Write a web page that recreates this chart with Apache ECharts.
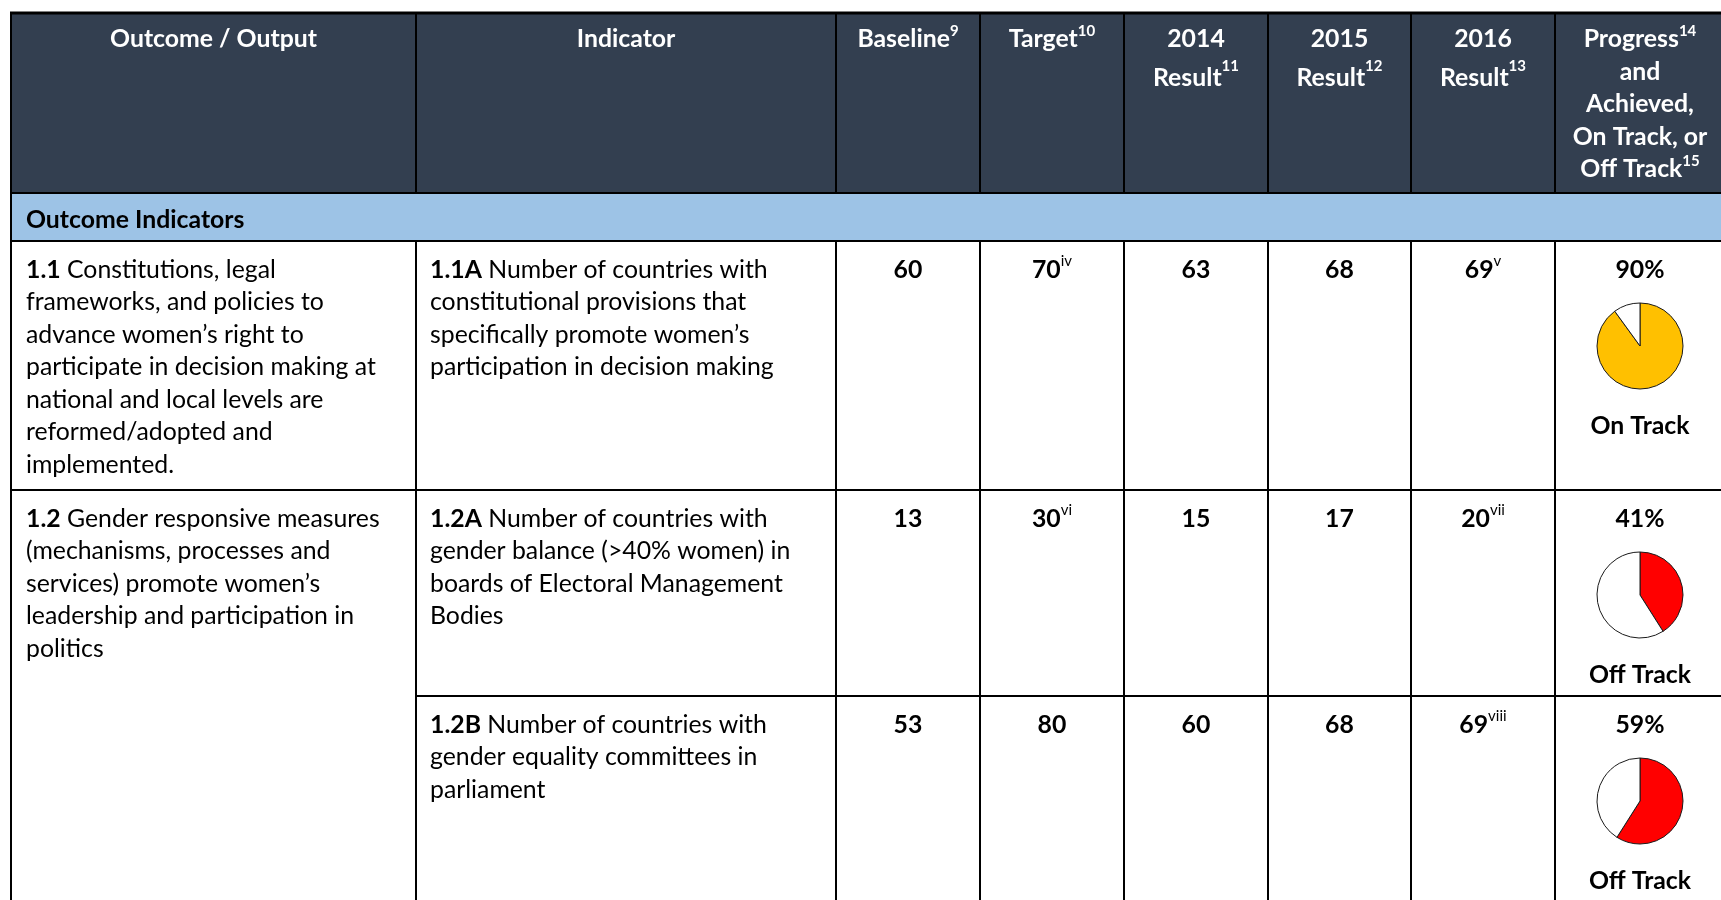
<!DOCTYPE html>
<html>
<head>
<meta charset="utf-8">
<script src="https://cdn.jsdelivr.net/npm/echarts@6/dist/echarts.min.js"></script>
<style>
  html, body { margin: 0; background: #fff; }
  #main { width: 1721px; height: 900px; }
</style>
</head>
<body>
<div id="main"></div>
<script>
// table content
var headerLabels = [
  'Outcome / Output',
  'Indicator',
  'Baseline{sup|9}',
  'Target{sup|10}',
  '2014\nResult{sup|11}',
  '2015\nResult{sup|12}',
  '2016\nResult{sup|13}',
  'Progress{sup|14}\nand\nAchieved,\nOn Track, or\nOff Track{sup|15}'
];
var sectionLabel = 'Outcome Indicators';
var outcomeCodes = ['1.1', '1.2'];
var outcomeTexts = [
  ' Constitutions, legal\nframeworks, and policies to\nadvance women’s right to\nparticipate in decision making at\nnational and local levels are\nreformed/adopted and\nimplemented.',
  ' Gender responsive measures\n(mechanisms, processes and\nservices) promote women’s\nleadership and participation in\npolitics'
];
var indicatorCodes = ['1.1A', '1.2A', '1.2B'];
var indicatorTexts = [
  ' Number of countries with\nconstitutional provisions that\nspecifically promote women’s\nparticipation in decision making',
  ' Number of countries with\ngender balance (>40% women) in\nboards of Electoral Management\nBodies',
  ' Number of countries with\ngender equality committees in\nparliament'
];
var baseline = [60, 13, 53];
var target = [70, 30, 80];
var targetNotes = ['iv', 'vi', ''];
var result2014 = [63, 15, 60];
var result2015 = [68, 17, 68];
var result2016 = [69, 20, 69];
var result2016Notes = ['v', 'vii', 'viii'];
var progress = [90, 41, 59];
var trackStatus = ['On Track', 'Off Track', 'Off Track'];

var statusColor = { 'On Track': '#FFC000', 'Off Track': '#FF0000' };

// font size fitted so body text wraps like the original
var FONT = 'Lato';
var probe = document.createElement('canvas').getContext('2d');
probe.font = '100px ' + FONT;
var fs = Math.round(100 * 350 / probe.measureText('participate in decision making at').width * 10) / 10;
var supFs = Math.round(fs * 0.6);

var W = 1721, H = 900;
var colX = [11, 416, 836, 980, 1124, 1268, 1411, 1555, 1725];
var headTop = 13, headBottom = 193, sectionBottom = 241;
var rowTops = [241, 490, 696];
var LH = 32.5;

function colCenter(i) { return (colX[i] + colX[i + 1]) / 2; }

function makeRich(color, lh, supWeight) {
  return {
    b: { fontFamily: FONT, fontSize: fs, fontWeight: 'bold', lineHeight: lh, fill: color },
    sup: { fontFamily: FONT, fontSize: supFs, fontWeight: supWeight, lineHeight: lh - fs * 0.4, verticalAlign: 'top', fill: color }
  };
}

var elements = [];

// backgrounds
elements.push({ type: 'rect', shape: { x: colX[0], y: headTop, width: W - colX[0], height: headBottom - headTop }, style: { fill: '#333F50' } });
elements.push({ type: 'rect', shape: { x: colX[0], y: headBottom, width: W - colX[0], height: sectionBottom - headBottom }, style: { fill: '#9DC3E6' } });

// header
headerLabels.forEach(function (label, i) {
  var lh = (i >= 4 && i <= 6) ? 38.5 : LH;
  elements.push({
    type: 'text', x: colCenter(i), y: 39.5 - lh / 2,
    style: {
      text: label, rich: makeRich('#fff', lh, 'bold'),
      font: 'bold ' + fs + 'px ' + FONT, fill: '#fff', lineHeight: lh,
      align: 'center', verticalAlign: 'top', textAlign: 'center', textVerticalAlign: 'top'
    }
  });
});

// section row
elements.push({
  type: 'text', x: 26, y: 220,
  style: { text: sectionLabel, font: 'bold ' + fs + 'px ' + FONT, fill: '#000', align: 'left', verticalAlign: 'middle', textAlign: 'left', textVerticalAlign: 'middle' }
});

function textBlock(x, y, text, align) {
  return {
    type: 'text', x: x, y: y,
    style: {
      text: text, rich: makeRich('#000', LH, 'normal'),
      font: fs + 'px ' + FONT, fill: '#000', lineHeight: LH,
      align: align, verticalAlign: 'top', textAlign: align, textVerticalAlign: 'top'
    }
  };
}

function cell(v, note) {
  return '{b|' + v + '}' + (note ? '{sup|' + note + '}' : '');
}

// outcomes (second one spans rows 1.2A and 1.2B)
var outcomeRows = [0, 1];
outcomeCodes.forEach(function (code, k) {
  elements.push(textBlock(26, rowTops[outcomeRows[k]] + 29 - LH / 2, '{b|' + code + '}' + outcomeTexts[k], 'left'));
});

var series = [];
indicatorCodes.forEach(function (code, r) {
  var top = rowTops[r];
  var lineY = top + 29 - LH / 2;
  elements.push(textBlock(430, lineY, '{b|' + code + '}' + indicatorTexts[r], 'left'));
  var cells = [
    cell(baseline[r]),
    cell(target[r], targetNotes[r]),
    cell(result2014[r]),
    cell(result2015[r]),
    cell(result2016[r], result2016Notes[r]),
    cell(progress[r] + '%')
  ];
  cells.forEach(function (t, c) {
    elements.push(textBlock(colCenter(c + 2), lineY, t, 'center'));
  });
  elements.push({
    type: 'text', x: colCenter(7), y: top + 185,
    style: { text: trackStatus[r], font: 'bold ' + fs + 'px ' + FONT, fill: '#000', align: 'center', verticalAlign: 'middle', textAlign: 'center', textVerticalAlign: 'middle' }
  });
  series.push({
    type: 'pie',
    silent: true,
    animation: false,
    center: [colCenter(7), top + 105],
    radius: 43,
    startAngle: 90,
    clockwise: true,
    label: { show: false },
    labelLine: { show: false },
    itemStyle: { borderColor: '#1a1a1a', borderWidth: 1 },
    data: [
      { value: progress[r], name: 'progress', itemStyle: { color: statusColor[trackStatus[r]] } },
      { value: 100 - progress[r], name: 'remaining', itemStyle: { color: '#fff' } }
    ]
  });
});

// grid lines
function hLine(y, x1, x2, w) {
  return { type: 'line', shape: { x1: x1, y1: y, x2: x2, y2: y }, style: { stroke: '#000', lineWidth: w || 2 } };
}
function vLine(x, y1, y2) {
  return { type: 'line', shape: { x1: x, y1: y1, x2: x, y2: y2 }, style: { stroke: '#000', lineWidth: 2 } };
}
elements.push(hLine(headTop, colX[0] - 1, W, 3));
elements.push(hLine(headBottom, colX[0], W));
elements.push(hLine(sectionBottom, colX[0], W));
elements.push(hLine(rowTops[1], colX[0], W));
elements.push(hLine(rowTops[2], colX[1], W));
elements.push(vLine(colX[0], headTop, H));
for (var i = 1; i < colX.length - 1; i++) {
  elements.push(vLine(colX[i], headTop, headBottom));
  elements.push(vLine(colX[i], sectionBottom, H));
}

var chart = echarts.init(document.getElementById('main'));
chart.setOption({
  backgroundColor: '#fff',
  animation: false,
  graphic: { elements: elements },
  series: series
});
</script>
</body>
</html>
